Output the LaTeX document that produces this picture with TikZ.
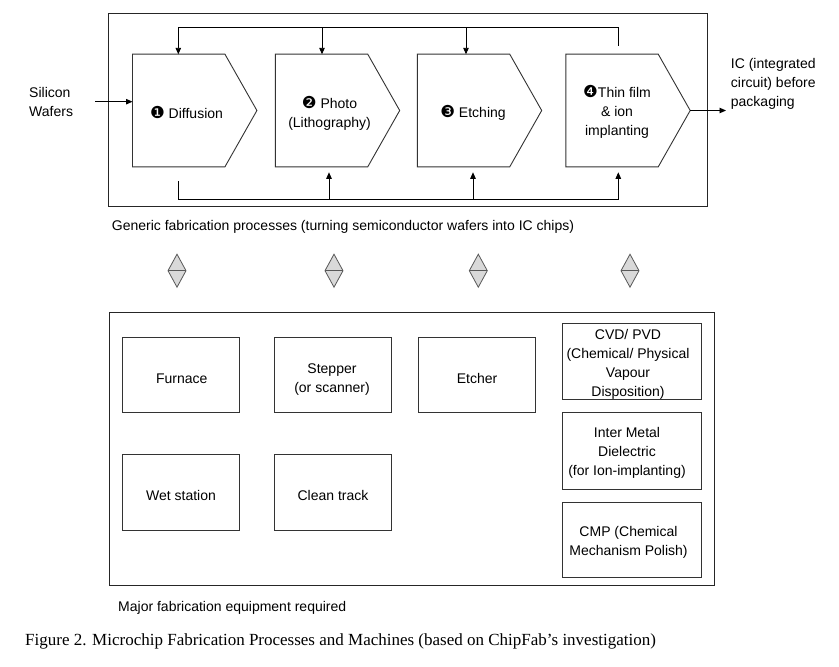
\documentclass[tikz,border=0pt]{standalone}
\usepackage{fontspec}
\setmainfont{Liberation Sans}
\newfontfamily\capfont{Liberation Serif}
\newfontfamily\dvfont{DejaVu Sans}
\usetikzlibrary{arrows.meta,calc}
\newcommand{\cnum}[1]{\smash{\dvfont\fontsize{16.5}{19}\selectfont #1}}
\begin{document}
\begin{tikzpicture}[x=1pt,y=-1pt,
  lin/.style={draw=black!80, line width=0.9pt},
  arr/.style={draw=black, line width=0.9pt, -{Triangle[length=6.5pt,width=5.5pt]}},
  body/.style={inner sep=0pt, minimum width=92pt, minimum height=112.4pt},
  txt/.style={inner sep=0pt, align=center, font=\fontsize{14}{19}\selectfont},
  eq/.style={draw=black!80, line width=0.9pt, inner sep=0pt, minimum width=117pt, minimum height=75.6pt},
  frame/.style={draw=black!85, line width=0.9pt, inner sep=0pt},
  dia/.style={draw=black!65, fill=black!15, line width=0.8pt, line join=miter},
  dialine/.style={draw=black!65, line width=0.8pt}]
\useasboundingbox (0,0) rectangle (839,667);
\fill[white] (0,0) rectangle (839,667);

% frames
\node[frame, minimum width=599pt, minimum height=192.7pt] (procframe) at (408.2,109.65) {};
\node[frame, minimum width=605.3pt, minimum height=272.3pt] (eqframe) at (411.65,448.85) {};

% process pentagons
\node[body] (p1) at (178.7,110.5) {};
\node[body] (p2) at (321.5,110.5) {};
\node[body] (p3) at (463.5,110.5) {};
\node[body] (p4) at (612,110.5) {};
\foreach \n in {p1,p2,p3,p4} {
  \draw[lin] (\n.north west) -- (\n.north east) -- ($(\n.east)+(32,0)$)
     -- (\n.south east) -- (\n.south west) -- cycle;
}
\node[txt] (t1) at (186.5,113) {\cnum{❶} Diffusion};
\node[txt] (t2) at (329.5,114.8) {\cnum{❷} Photo\\(Lithography)};
\node[txt] (t3) at (473,114) {\cnum{❸} Etching};
\node[txt] (t4) at (617,113) {\cnum{❹}Thin film\\\& ion\\implanting};

% input / output
\node[txt, align=left, anchor=west] (sw) at (29,101.5) {Silicon\\Wafers};
\node[txt, align=left, anchor=west] (ic) at (730.7,84) {IC (integrated\\circuit) before\\packaging};
\coordinate (in) at (95,101.7);
\draw[arr] (in) -- (in -| p1.west);
\coordinate (out) at (726,110.5);
\draw[arr] ($(p4.east)+(32,0)$) -- (out);

% top feedback loop
\coordinate (topline) at (0,27.3);
\coordinate (fb4) at (618.3,45.7);
\coordinate (a1) at (178.3,54.3);
\coordinate (a2) at (322,54.3);
\coordinate (a3) at (466,54.3);
\draw[arr] (fb4) |- (a1 |- topline) -- (a1);
\draw[arr] (a2 |- topline) -- (a2);
\draw[arr] (a3 |- topline) -- (a3);

% bottom feed loop
\coordinate (botline) at (0,199.3);
\coordinate (b1) at (178.3,181);
\coordinate (c2) at (329,172.3);
\coordinate (c3) at (473,172.3);
\coordinate (c4) at (618.3,172.3);
\draw[arr] (b1) |- (c4 |- botline) -- (c4);
\draw[arr] (c2 |- botline) -- (c2);
\draw[arr] (c3 |- botline) -- (c3);

\node[txt, anchor=west] (gen) at (111.7,227) {Generic fabrication processes (turning semiconductor wafers into IC chips)};

% diamonds
\foreach \x [count=\i] in {177,334,478.3,630} {
  \coordinate (dm\i) at (\x,270.7);
  \draw[dia] ($(dm\i)+(0,-16.5)$) -- ($(dm\i)+(9,0)$) -- ($(dm\i)+(0,16.5)$) -- ($(dm\i)+(-9,0)$) -- cycle;
  \draw[dialine] ($(dm\i)+(-9,0)$) -- ($(dm\i)+(9,0)$);
}

% equipment
\node[eq] (furnace) at (181,375) {};
\node[eq] (stepper) at (333,375) {};
\node[eq] (etcher) at (477,375) {};
\node[eq, minimum height=76pt] (wet) at (181,492) {};
\node[eq, minimum height=76pt] (clean) at (333,492) {};
\node[txt] (furnacet) at (181.7,378.3) {Furnace};
\node[txt] (steppert) at (332,379.3) {Stepper\\(or scanner)};
\node[txt] (etchert) at (477,378.3) {Etcher};
\node[txt] (wett) at (181,495) {Wet station};
\node[txt] (cleant) at (333,495) {Clean track};

\node[eq, minimum width=138.3pt, minimum height=76pt] (cvd) at (631.85,361.3) {};
\node[eq, minimum width=138.3pt, minimum height=76.6pt] (imd) at (631.85,451) {};
\node[eq, minimum width=138.3pt, minimum height=75.4pt] (cmp) at (631.85,540) {};
\node[txt] (cvdt) at (628,364.3) {CVD/ PVD\\(Chemical/ Physical\\Vapour\\Disposition)};
\node[txt] (imdt) at (627,453.3) {Inter Metal\\Dielectric\\(for Ion-implanting)};
\node[txt] (cmpt) at (628.5,542.5) {CMP (Chemical\\Mechanism Polish)};

\node[txt, anchor=west] (maj) at (118,607.5) {Major fabrication equipment required};
\node[inner sep=0pt, anchor=west, font=\capfont\fontsize{17}{20}\selectfont] (cap) at (25,641)
  {Figure 2. Microchip Fabrication Processes and Machines (based on ChipFab’s investigation)};
\end{tikzpicture}
\end{document}
